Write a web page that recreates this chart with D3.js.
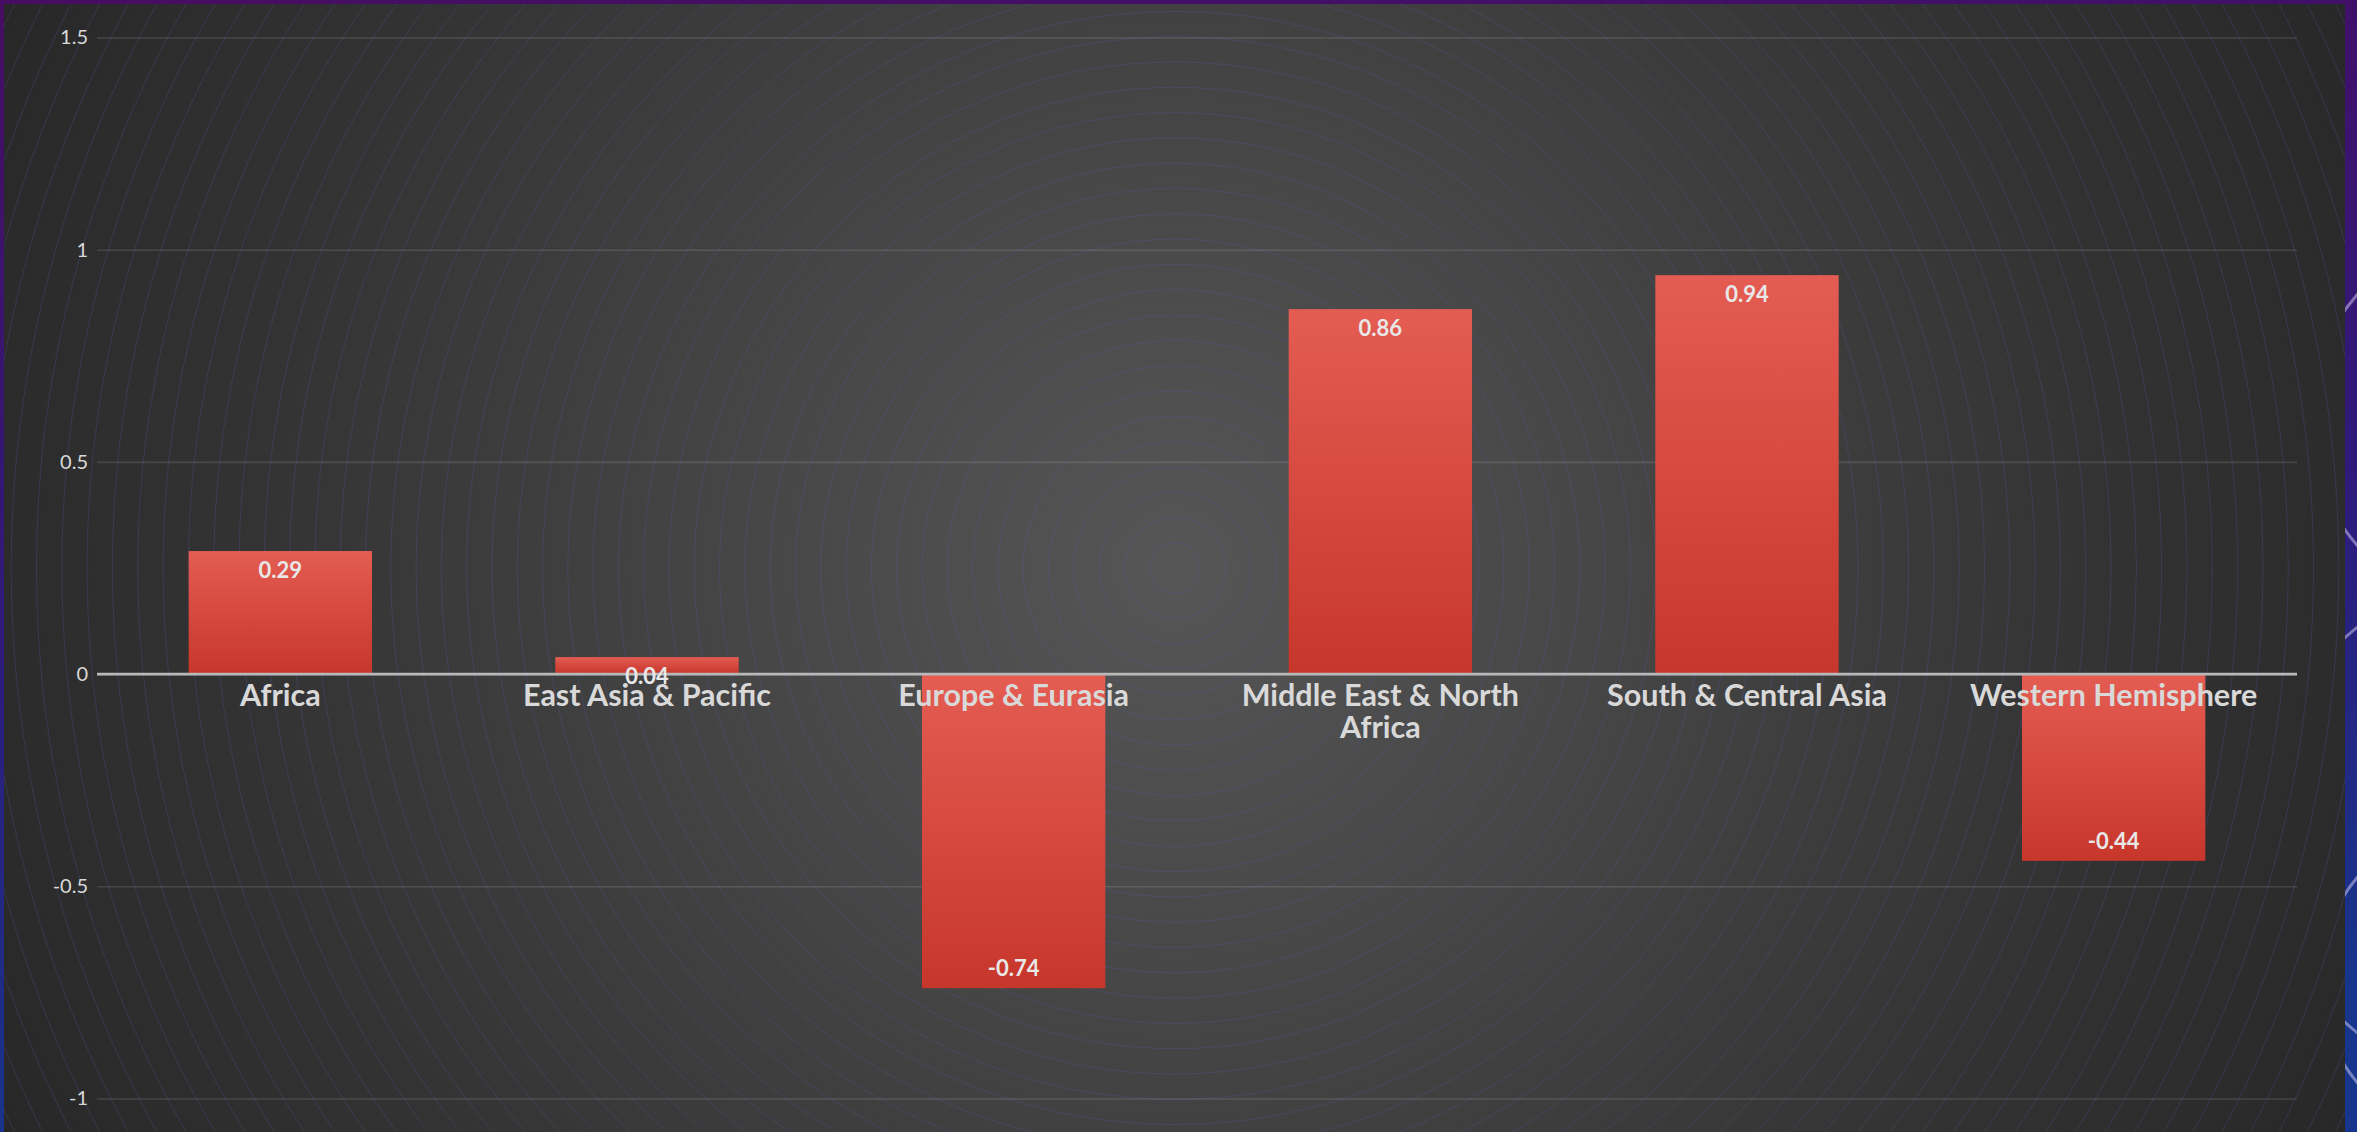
<!DOCTYPE html>
<html>
<head>
<meta charset="utf-8">
<script src="https://cdn.jsdelivr.net/npm/d3@7"></script>
<style>
  html, body { margin: 0; padding: 0; background: #2a1a6a; overflow: hidden; }
  svg { display: block; }
</style>
</head>
<body>
<script>
// ---- data ----
const categories = ["Africa", "East Asia & Pacific", "Europe & Eurasia", "Middle East & North Africa", "South & Central Asia", "Western Hemisphere"];
const values = [0.29, 0.04, -0.74, 0.86, 0.94, -0.44];
const yTicks = [-1, -0.5, 0, 0.5, 1, 1.5];
const yDomain = [-1, 1.5];

// ---- layout ----
const W = 2357, H = 1132;
const plot = { left: 97, right: 2297, top: 37.5, bottom: 1098.5 };
const panel = { x: 4, y: 4, w: 2341, h: 1140 };
const font = "Lato, 'Open Sans', sans-serif";

const svg = d3.select("body").append("svg").attr("width", W).attr("height", H);
const defs = svg.append("defs");

// outer slide background
const bgGrad = defs.append("linearGradient").attr("id", "slideBg")
  .attr("x1", 0).attr("y1", 0).attr("x2", 0.15).attr("y2", 1);
bgGrad.append("stop").attr("offset", "0%").attr("stop-color", "#470d63");
bgGrad.append("stop").attr("offset", "55%").attr("stop-color", "#2f1a7a");
bgGrad.append("stop").attr("offset", "100%").attr("stop-color", "#17358c");
svg.append("rect").attr("width", W).attr("height", H).attr("fill", "url(#slideBg)");

// faint decorative arcs on the right edge
const arcG = svg.append("g").attr("fill", "none").attr("stroke", "rgba(230,225,255,0.45)").attr("stroke-width", 3);
[[2500, 420, 190], [2520, 830, 260], [2480, 980, 160]].forEach(([cx, cy, r]) => {
  arcG.append("circle").attr("cx", cx).attr("cy", cy).attr("r", r);
});

// chart panel with radial gradient
const cx = 1175, cy = 568;
const rg = defs.append("radialGradient").attr("id", "panelBg")
  .attr("gradientUnits", "userSpaceOnUse").attr("cx", cx).attr("cy", cy).attr("r", 1320);
rg.append("stop").attr("offset", "0%").attr("stop-color", "#565656");
rg.append("stop").attr("offset", "35%").attr("stop-color", "#454545");
rg.append("stop").attr("offset", "70%").attr("stop-color", "#333333");
rg.append("stop").attr("offset", "100%").attr("stop-color", "#272727");
defs.append("clipPath").attr("id", "panelClip").append("rect")
  .attr("x", panel.x).attr("y", panel.y).attr("width", panel.w).attr("height", panel.h);
svg.append("rect").attr("x", panel.x).attr("y", panel.y).attr("width", panel.w).attr("height", panel.h)
  .attr("fill", "url(#panelBg)");

// concentric rings texture
const rings = svg.append("g").attr("clip-path", "url(#panelClip)")
  .attr("fill", "none").attr("stroke", "rgba(90,85,170,0.28)").attr("stroke-width", 1);
d3.range(1, 56).forEach(k => {
  rings.append("circle").attr("cx", cx).attr("cy", cy).attr("r", k * 25.3);
});

// ---- scales ----
const x = d3.scaleBand().domain(categories).range([plot.left, plot.right])
  .paddingInner(0.5).paddingOuter(0.25);
const y = d3.scaleLinear().domain(yDomain).range([plot.bottom, plot.top]);

// gridlines + y tick labels
const yAxis = d3.axisLeft(y).tickValues(yTicks).tickFormat(d => String(d))
  .tickSize(-(plot.right - plot.left)).tickPadding(9);
const gy = svg.append("g").attr("transform", `translate(${plot.left},0)`).call(yAxis);
gy.select(".domain").remove();
gy.selectAll(".tick line").attr("stroke", "rgba(255,255,255,0.12)").attr("stroke-width", 1.6);
gy.selectAll(".tick text").attr("fill", "#d9d9d9").attr("font-family", font)
  .attr("font-size", 20).attr("font-weight", 400);

// bar gradient
const barGrad = defs.append("linearGradient").attr("id", "barGrad")
  .attr("x1", 0).attr("y1", 0).attr("x2", 0).attr("y2", 1);
barGrad.append("stop").attr("offset", "0%").attr("stop-color", "#e45c52");
barGrad.append("stop").attr("offset", "100%").attr("stop-color", "#c7362b");

const data = categories.map((c, i) => ({ c, v: values[i] }));

svg.append("g").selectAll("rect").data(data).join("rect")
  .attr("x", d => x(d.c))
  .attr("width", x.bandwidth())
  .attr("y", d => Math.min(y(d.v), y(0)))
  .attr("height", d => Math.abs(y(d.v) - y(0)))
  .attr("fill", "url(#barGrad)");

// zero axis line
svg.append("line").attr("x1", plot.left).attr("x2", plot.right)
  .attr("y1", y(0)).attr("y2", y(0))
  .attr("stroke", "#b8b8b8").attr("stroke-width", 2.6);

// value labels (inside end)
svg.append("g").selectAll("text").data(data).join("text")
  .attr("x", d => x(d.c) + x.bandwidth() / 2)
  .attr("y", d => d.v >= 0 ? y(d.v) + 19 : y(d.v) - 20)
  .attr("dy", "0.35em")
  .attr("text-anchor", "middle")
  .attr("font-family", font).attr("font-weight", 700).attr("font-size", 22)
  .attr("fill", "#e8e8e8")
  .text(d => d.v.toFixed(2));

// category labels with wrapping
const wrapWidth = 320, lineH = 32;
const catG = svg.append("g");
data.forEach(d => {
  const t = catG.append("text")
    .attr("x", x(d.c) + x.bandwidth() / 2)
    .attr("y", y(0) + 32)
    .attr("dy", "0.35em")
    .attr("text-anchor", "middle")
    .attr("font-family", font).attr("font-weight", 700).attr("font-size", 30.5)
    .attr("fill", "#d9d9d9");
  const words = d.c.split(" ");
  let line = [];
  let tspan = t.append("tspan").attr("x", x(d.c) + x.bandwidth() / 2).attr("dy", 0);
  words.forEach(w => {
    line.push(w);
    tspan.text(line.join(" "));
    if (tspan.node().getComputedTextLength() > wrapWidth && line.length > 1) {
      line.pop();
      tspan.text(line.join(" "));
      line = [w];
      tspan = t.append("tspan").attr("x", x(d.c) + x.bandwidth() / 2).attr("dy", lineH).text(w);
    }
  });
});
</script>
</body>
</html>
